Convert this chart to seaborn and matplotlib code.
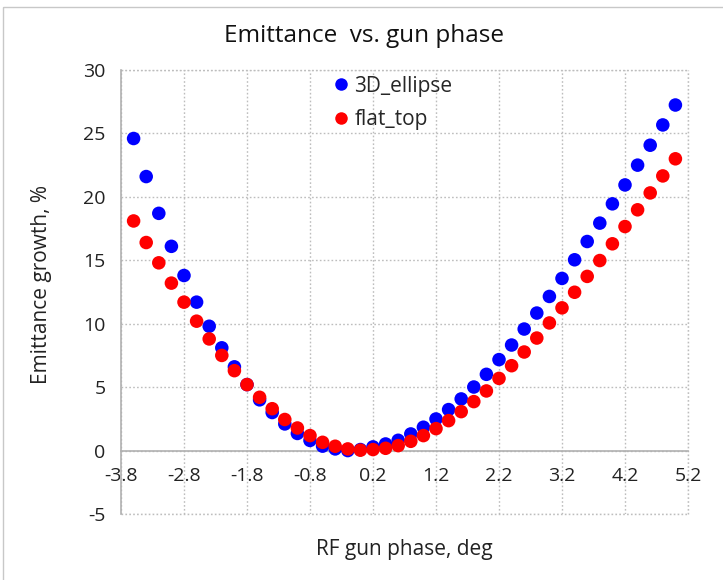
import matplotlib
matplotlib.use("Agg")
import matplotlib.pyplot as plt
import numpy as np
import pandas as pd
import seaborn as sns
from matplotlib.patches import Rectangle

phase = [-3.6, -3.4, -3.2, -3.0, -2.8, -2.6, -2.4, -2.2, -2.0, -1.8, -1.6,
         -1.4, -1.2, -1.0, -0.8, -0.6, -0.4, -0.2, 0.0, 0.2, 0.4, 0.6,
         0.8, 1.0, 1.2, 1.4, 1.6, 1.8, 2.0, 2.2, 2.4, 2.6, 2.8, 3.0,
         3.2, 3.4, 3.6, 3.8, 4.0, 4.2, 4.4, 4.6, 4.8, 5.0]

ellipse_3d = [24.6, 21.6, 18.7, 16.1, 13.8, 11.7, 9.8, 8.1, 6.6, 5.2, 4.0,
              3.0, 2.1, 1.35, 0.8, 0.35, 0.13, 0.0, 0.08, 0.29, 0.52, 0.81,
              1.31, 1.84, 2.49, 3.23, 4.07, 5.01, 6.01, 7.17, 8.32, 9.58, 10.84, 12.15,
              13.57, 15.04, 16.48, 17.93, 19.45, 20.94, 22.5, 24.07, 25.67, 27.24]

flat_top = [18.1, 16.4, 14.8, 13.2, 11.7, 10.2, 8.8, 7.5, 6.3, 5.2, 4.2,
            3.3, 2.45, 1.78, 1.18, 0.65, 0.34, 0.13, 0.03, 0.08, 0.18, 0.39,
            0.73, 1.18, 1.73, 2.36, 3.07, 3.86, 4.70, 5.69, 6.69, 7.77, 8.87, 10.06,
            11.25, 12.48, 13.73, 14.98, 16.3, 17.66, 18.98, 20.31, 21.65, 23.0]

series_names = ["3D_ellipse", "flat_top"]
x_ticks = [-3.8, -2.8, -1.8, -0.8, 0.2, 1.2, 2.2, 3.2, 4.2, 5.2]
y_ticks = [-5, 0, 5, 10, 15, 20, 25, 30]

df = pd.DataFrame({
    "phase": phase + phase,
    "growth": ellipse_3d + flat_top,
    "series": [series_names[0]] * len(phase) + [series_names[1]] * len(phase),
})

sns.set_theme(style="white")
plt.rcParams["font.family"] = ["Open Sans", "DejaVu Sans"]

fig = plt.figure(figsize=(7.23, 5.8), dpi=100)
ax = fig.add_axes([121 / 723, 1 - 514 / 580, (688 - 121) / 723, (514 - 70) / 580])

# outer chart frame
fig.patches.append(Rectangle((3 / 723, 1 - 7 / 580), 1.0, -1.0, transform=fig.transFigure,
                             fill=False, edgecolor="#c8c8c8", linewidth=1.0, zorder=0))

sns.scatterplot(data=df, x="phase", y="growth", hue="series",
                palette={"3D_ellipse": "#0000ff", "flat_top": "#ff0000"},
                s=95, edgecolor="none", linewidth=0, ax=ax, legend=False, zorder=3)

ax.set_xlim(-3.8, 5.2)
ax.set_ylim(-5, 30)
ax.set_xticks(x_ticks)
ax.set_xticklabels([f"{v:.1f}" for v in x_ticks])
ax.set_yticks(y_ticks)
ax.set_yticklabels([str(v) for v in y_ticks])

grid_kw = dict(color="#bdbdbd", linestyle=(0, (1.2, 1.6)), linewidth=1.0)
ax.grid(True, **grid_kw)
ax.set_axisbelow(True)

for side in ["top", "right"]:
    ax.spines[side].set_visible(False)
ax.spines["left"].set_color("#b0b0b0")
ax.spines["left"].set_linewidth(1.2)
ax.spines["bottom"].set_position(("data", 0))
ax.spines["bottom"].set_color("#b0b0b0")
ax.spines["bottom"].set_linewidth(1.2)
ax.axhline(-5, zorder=1, clip_on=False, **grid_kw)
ax.axhline(30, zorder=1, clip_on=False, **grid_kw)
ax.axvline(5.2, zorder=1, clip_on=False, **grid_kw)

ax.tick_params(axis="both", length=0, labelsize=14, colors="#222222")
ax.tick_params(axis="x", pad=12)
ax.tick_params(axis="y", pad=11)

ax.set_xlabel("")
ax.set_ylabel("")
fig.text((121 + 688) / 2 / 723, 1 - 550 / 580, "RF gun phase, deg", ha="center", va="center",
         fontsize=15, color="#222222")
fig.text(42 / 723, 1 - 284 / 580, "Emittance growth, %", ha="center", va="center",
         rotation=90, fontsize=15, color="#222222")
fig.text(0.503, 1 - 36 / 580, "Emittance  vs. gun phase", ha="center", va="center",
         fontsize=17.5, color="#111111")

handles = [plt.Line2D([], [], marker="o", linestyle="", markersize=9,
                      markerfacecolor=c, markeredgecolor="none")
           for c in ["#0000ff", "#ff0000"]]
ax.legend(handles, series_names, loc="upper left", bbox_to_anchor=(0.362, 1.006),
          frameon=False, fontsize=15, handlelength=0.6, handletextpad=0.35,
          labelspacing=0.6, borderaxespad=0)

fig.savefig("out.png", dpi=100, facecolor="white")
